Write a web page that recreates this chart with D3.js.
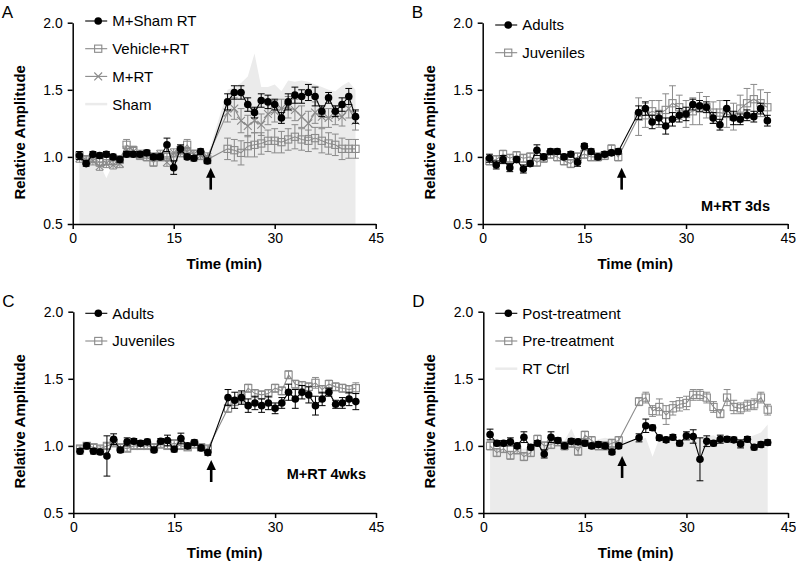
<!DOCTYPE html>
<html><head><meta charset="utf-8">
<script src="https://cdn.jsdelivr.net/npm/d3@7"></script>
<style>
body{margin:0;background:#fff;}
svg text{font-family:"Liberation Sans",Arial,Helvetica,sans-serif;}
</style></head>
<body><svg id="c" width="796" height="563"></svg>
<script>
// ---------- data ----------
const times = [1,2,3,4,5,6,7,8,9,10,11,12,13,14,15,16,17,18,19,20,23,24,25,26,27,28,29,30,31,32,33,34,35,36,37,38,39,40,41,42];
const yTicks = [0.5,1.0,1.5,2.0];
const xTicks = [0,15,30,45];

// Panel A
const A_shamRT = [1.01,0.95,1.02,1.01,1.02,1.00,0.98,1.02,1.02,1.02,1.03,1.00,1.00,1.09,0.92,1.06,1.00,0.99,1.04,0.97, 1.41,1.48,1.48,1.39,1.33,1.42,1.41,1.39,1.29,1.41,1.46,1.45,1.48,1.45,1.34,1.44,1.34,1.39,1.45,1.30];
const A_shamRT_err = [0.03,0.02,0.02,0.02,0.02,0.02,0.02,0.02,0.02,0.02,0.02,0.02,0.02,0.05,0.05,0.03,0.02,0.02,0.02,0.02, 0.06,0.05,0.05,0.05,0.04,0.05,0.05,0.04,0.04,0.06,0.06,0.05,0.06,0.07,0.04,0.04,0.04,0.05,0.06,0.05];
const A_vehicle = [1.01,0.98,0.99,0.96,0.97,0.97,0.98,1.09,1.05,1.01,1.00,0.96,1.00,1.00,1.00,1.03,1.09,1.02,1.01,0.98, 1.06,1.05,1.03,1.08,1.09,1.10,1.12,1.12,1.11,1.13,1.15,1.13,1.12,1.14,1.12,1.10,1.09,1.06,1.06,1.06];
const A_vehicle_err = [0.03,0.03,0.03,0.03,0.03,0.03,0.03,0.04,0.03,0.03,0.03,0.03,0.03,0.03,0.03,0.03,0.04,0.03,0.03,0.03, 0.08,0.08,0.09,0.08,0.09,0.08,0.08,0.09,0.08,0.08,0.09,0.08,0.08,0.08,0.09,0.08,0.08,0.08,0.07,0.07];
const A_mrt = [0.99,0.97,0.97,0.93,0.95,0.94,0.95,1.05,1.04,1.02,1.02,1.00,1.02,0.96,1.03,1.05,1.04,1.02,1.01,1.00, 1.33,1.36,1.27,1.23,1.27,1.24,1.32,1.34,1.36,1.37,1.35,1.30,1.25,1.33,1.30,1.29,1.31,1.30,1.36,1.27];
const A_mrt_err = [0.03,0.03,0.03,0.03,0.03,0.03,0.03,0.03,0.03,0.03,0.03,0.03,0.03,0.03,0.03,0.03,0.03,0.03,0.03,0.03, 0.07,0.08,0.09,0.08,0.09,0.08,0.08,0.08,0.07,0.08,0.08,0.08,0.09,0.08,0.08,0.07,0.07,0.07,0.07,0.07];
const A_sham = [1.00,0.97,0.99,0.95,0.84,0.95,0.98,1.03,1.02,1.00,1.01,1.00,1.00,1.00,1.02,1.05,1.03,1.00,1.00,1.00, 1.50,1.52,1.55,1.60,1.77,1.52,1.52,1.54,1.49,1.57,1.56,1.57,1.56,1.54,1.52,1.50,1.49,1.53,1.56,1.50];

// Panel B
const B_adults = [0.99,0.94,0.98,0.92,0.98,0.91,0.95,1.05,1.00,1.04,1.04,1.00,1.02,0.96,1.08,1.04,1.00,1.02,1.03,1.04, 1.33,1.36,1.26,1.29,1.23,1.28,1.31,1.32,1.39,1.38,1.37,1.29,1.24,1.36,1.29,1.28,1.31,1.30,1.36,1.27];
const B_adults_err = [0.03,0.03,0.03,0.03,0.02,0.03,0.02,0.04,0.02,0.02,0.02,0.02,0.02,0.03,0.02,0.02,0.02,0.02,0.02,0.02, 0.05,0.05,0.05,0.05,0.06,0.05,0.05,0.05,0.04,0.04,0.04,0.04,0.04,0.06,0.05,0.04,0.04,0.04,0.04,0.04];
const B_juv = [0.97,0.98,1.02,0.99,1.01,0.99,1.00,0.96,0.99,1.02,1.00,0.97,0.95,1.00,1.02,1.00,1.00,1.01,1.06,1.00, 1.30,1.31,1.34,1.32,1.35,1.40,1.37,1.32,1.34,1.36,1.37,1.33,1.33,1.32,1.30,1.36,1.40,1.43,1.40,1.37];
const B_juv_err = [0.03,0.03,0.03,0.03,0.03,0.03,0.03,0.03,0.03,0.03,0.03,0.03,0.03,0.03,0.03,0.03,0.03,0.03,0.03,0.03, 0.14,0.09,0.08,0.10,0.12,0.13,0.09,0.10,0.10,0.12,0.08,0.08,0.09,0.10,0.10,0.10,0.11,0.11,0.10,0.11];

// Panel C
const C_adults = [0.96,1.00,0.96,0.955,0.925,1.05,0.97,1.03,1.035,1.02,1.03,0.97,1.035,1.04,0.975,1.055,1.00,1.025,0.985,0.95, 1.36,1.34,1.36,1.30,1.32,1.30,1.32,1.28,1.32,1.40,1.35,1.40,1.38,1.30,1.35,1.40,1.31,1.32,1.35,1.33];
const C_adults_err = [0.02,0.02,0.02,0.02,0.15,0.04,0.02,0.03,0.02,0.02,0.02,0.02,0.02,0.04,0.02,0.04,0.02,0.02,0.02,0.02, 0.06,0.06,0.05,0.05,0.05,0.05,0.05,0.04,0.04,0.06,0.07,0.05,0.06,0.07,0.05,0.03,0.03,0.04,0.05,0.06];
const C_juv = [0.98,1.00,0.99,0.98,1.00,1.02,0.99,0.98,1.00,1.00,1.00,0.99,1.01,1.00,1.02,1.00,0.99,1.01,0.99,0.98, 1.28,1.33,1.36,1.43,1.39,1.38,1.39,1.43,1.41,1.53,1.46,1.45,1.44,1.47,1.42,1.46,1.44,1.43,1.42,1.43];
const C_juv_err = [0.02,0.02,0.02,0.02,0.02,0.02,0.02,0.02,0.02,0.02,0.02,0.02,0.02,0.02,0.02,0.02,0.02,0.02,0.02,0.02, 0.03,0.03,0.04,0.03,0.03,0.03,0.03,0.03,0.03,0.03,0.03,0.03,0.03,0.04,0.03,0.03,0.03,0.03,0.03,0.04];

// Panel D
const D_post = [1.085,1.02,1.02,1.03,1.00,1.065,0.99,1.02,0.94,1.065,1.04,1.00,1.035,1.03,1.02,1.00,1.01,1.00,0.955,1.00, 1.06,1.15,1.135,1.06,1.045,1.065,1.02,1.075,1.07,0.90,1.035,1.02,1.05,1.05,1.045,1.015,1.05,0.99,1.01,1.025];
const D_post_err = [0.04,0.02,0.02,0.03,0.02,0.04,0.02,0.02,0.03,0.04,0.02,0.02,0.02,0.02,0.02,0.02,0.02,0.02,0.02,0.02, 0.03,0.05,0.02,0.02,0.02,0.02,0.02,0.03,0.05,0.16,0.04,0.02,0.03,0.02,0.02,0.03,0.02,0.02,0.02,0.02];
const D_pre = [1.00,0.95,0.98,0.93,0.97,0.92,0.95,1.05,1.00,1.01,1.03,1.00,1.02,0.96,1.08,1.04,1.00,1.00,1.02,1.04, 1.33,1.36,1.26,1.29,1.23,1.28,1.31,1.32,1.38,1.38,1.36,1.29,1.24,1.36,1.29,1.28,1.30,1.31,1.36,1.27];
const D_pre_err = [0.03,0.03,0.03,0.03,0.03,0.03,0.03,0.03,0.03,0.03,0.03,0.03,0.03,0.03,0.03,0.03,0.03,0.03,0.03,0.03, 0.03,0.04,0.04,0.06,0.07,0.05,0.05,0.05,0.04,0.04,0.04,0.04,0.03,0.06,0.05,0.04,0.04,0.04,0.04,0.04];
const D_ctrl = [1.00,0.98,0.97,0.96,0.97,0.98,0.98,1.00,1.02,1.00,1.02,1.04,1.13,1.02,1.05,1.03,1.05,1.06,1.05,1.04, 1.04,1.06,0.92,1.06,1.04,1.05,1.03,1.05,1.06,1.06,1.07,1.08,1.05,1.07,1.06,1.05,1.06,1.08,1.10,1.16];

// ---------- drawing ----------
const svg = d3.select("#c");
const BLACK = "#000", GRAY = "#8a8a8a", AREA = "#ebebeb";

function drawPanel(cfg){
  const g = svg.append("g");
  const x = d3.scaleLinear().domain([0,45]).range([cfg.x0,cfg.x1]);
  const y = d3.scaleLinear().domain([0.5,2.0]).range([cfg.yb,cfg.yt]);

  if(cfg.area){
    const pts = times.map((t,i)=>[t,cfg.area[i]]);
    g.append("path").attr("d", d3.area().x(d=>x(d[0])).y0(y(0.5)).y1(d=>y(d[1]))(pts))
      .attr("fill",AREA);
  }
  cfg.series.forEach(s=>{
    const col = s.color;
    const pts = times.map((t,i)=>({t, v:s.values[i], e:s.err[i]}));
    const sg = g.append("g");
    sg.append("path").attr("d", d3.line().x(d=>x(d.t)).y(d=>y(d.v))(pts))
      .attr("fill","none").attr("stroke",col).attr("stroke-width",1.1);
    pts.forEach(d=>{
      const cx = x(d.t), y1 = y(d.v+d.e), y2 = y(d.v-d.e);
      sg.append("line").attr("x1",cx).attr("x2",cx).attr("y1",y1).attr("y2",y2).attr("stroke",col).attr("stroke-width",1);
      [y1,y2].forEach(yy=>sg.append("line").attr("x1",cx-3.4).attr("x2",cx+3.4).attr("y1",yy).attr("y2",yy).attr("stroke",col).attr("stroke-width",1));
    });
    pts.forEach(d=>marker(sg, s.marker, x(d.t), y(d.v), col));
  });

  const ya = g.append("g").attr("transform",`translate(${cfg.x0},0)`)
    .call(d3.axisLeft(y).tickValues(yTicks).tickFormat(d3.format(".1f")).tickSize(5).tickSizeOuter(0).tickPadding(5));
  const xa = g.append("g").attr("transform",`translate(0,${cfg.yb})`)
    .call(d3.axisBottom(x).tickValues(xTicks).tickFormat(d3.format("d")).tickSize(5).tickSizeOuter(0).tickPadding(4));
  [ya,xa].forEach(a=>{
    a.selectAll("path,line").attr("stroke","#000").attr("stroke-width",1.5);
    a.selectAll("text").attr("font-size",14).attr("fill","#000").style("font-family",'"Liberation Sans",Arial,sans-serif');
  });

  g.append("text").attr("transform",`translate(${cfg.x0-48},${(cfg.yt+cfg.yb)/2+9}) rotate(-90)`)
    .attr("text-anchor","middle").attr("font-size",15).attr("font-weight","bold").text("Relative Amplitude");
  g.append("text").attr("x",(cfg.x0+cfg.x1)/2).attr("y",cfg.yb+45)
    .attr("text-anchor","middle").attr("font-size",15).attr("font-weight","bold").text("Time (min)");

  g.append("text").attr("x",cfg.x0-71).attr("y",cfg.yt-4.5).attr("font-size",17).text(cfg.letter);

  const ax = x(20.5), ty = y(cfg.arrowTip);
  g.append("line").attr("x1",ax).attr("x2",ax).attr("y1",ty+8).attr("y2",ty+22).attr("stroke","#000").attr("stroke-width",2.6);
  g.append("path").attr("d",`M${ax},${ty} L${ax-4.7},${ty+10} L${ax+4.7},${ty+10} Z`).attr("fill","#000");

  if(cfg.note){
    g.append("text").attr("x",cfg.noteX).attr("y",y(cfg.noteY)).attr("text-anchor","end")
      .attr("font-size",14.5).attr("font-weight","bold").text(cfg.note);
  }

  cfg.legend.forEach((L,i)=>{
    const ly = cfg.legY + i*27.7;
    const lx = cfg.x0 + cfg.legDx;
    if(L.type==="area"){
      g.append("line").attr("x1",lx).attr("x2",lx+22).attr("y1",ly).attr("y2",ly).attr("stroke",AREA).attr("stroke-width",2.5);
    } else {
      g.append("line").attr("x1",lx).attr("x2",lx+22).attr("y1",ly).attr("y2",ly).attr("stroke",L.color).attr("stroke-width",1.1);
      marker(g, L.marker, lx+13, ly, L.color);
    }
    g.append("text").attr("x",lx+27).attr("y",ly).attr("dy","0.36em").attr("font-size",15).attr("fill","#000").text(L.name);
  });
}

function marker(g, type, cx, cy, col){
  if(type==="circle"){
    g.append("circle").attr("cx",cx).attr("cy",cy).attr("r",3.8).attr("fill",col);
  } else if(type==="square"){
    g.append("rect").attr("x",cx-3.6).attr("y",cy-3.6).attr("width",7.2).attr("height",7.2)
      .attr("fill","none").attr("stroke",col).attr("stroke-width",1.1);
  } else if(type==="x"){
    const r=3.9;
    g.append("path").attr("d",`M${cx-r},${cy-r}L${cx+r},${cy+r}M${cx-r},${cy+r}L${cx+r},${cy-r}`)
      .attr("stroke",col).attr("stroke-width",1.1).attr("fill","none");
  }
}

drawPanel({
  letter:"A", x0:72.7, x1:375.7, yt:22.7, yb:224, arrowTip:0.92,
  area:A_sham,
  series:[
    {values:A_vehicle, err:A_vehicle_err, marker:"square", color:GRAY},
    {values:A_mrt, err:A_mrt_err, marker:"x", color:GRAY},
    {values:A_shamRT, err:A_shamRT_err, marker:"circle", color:BLACK}
  ],
  legY:21, legDx:12.5,
  legend:[
    {name:"M+Sham RT", marker:"circle", color:BLACK},
    {name:"Vehicle+RT", marker:"square", color:GRAY},
    {name:"M+RT", marker:"x", color:GRAY},
    {name:"Sham", type:"area"}
  ]
});
drawPanel({
  letter:"B", x0:482.7, x1:787.7, yt:22.7, yb:224, arrowTip:0.92,
  series:[
    {values:B_juv, err:B_juv_err, marker:"square", color:GRAY},
    {values:B_adults, err:B_adults_err, marker:"circle", color:BLACK}
  ],
  note:"M+RT 3ds", noteX:770, noteY:0.6,
  legY:25, legDx:12.5,
  legend:[
    {name:"Adults", marker:"circle", color:BLACK},
    {name:"Juveniles", marker:"square", color:GRAY}
  ]
});
drawPanel({
  letter:"C", x0:73.3, x1:376, yt:311.7, yb:513, arrowTip:0.895,
  series:[
    {values:C_juv, err:C_juv_err, marker:"square", color:GRAY},
    {values:C_adults, err:C_adults_err, marker:"circle", color:BLACK}
  ],
  note:"M+RT 4wks", noteX:366, noteY:0.75,
  legY:313.3, legDx:12,
  legend:[
    {name:"Adults", marker:"circle", color:BLACK},
    {name:"Juveniles", marker:"square", color:GRAY}
  ]
});
drawPanel({
  letter:"D", x0:483.3, x1:788, yt:311.7, yb:513, arrowTip:0.925,
  area:D_ctrl,
  series:[
    {values:D_pre, err:D_pre_err, marker:"square", color:GRAY},
    {values:D_post, err:D_post_err, marker:"circle", color:BLACK}
  ],
  legY:313.3, legDx:12,
  legend:[
    {name:"Post-treatment", marker:"circle", color:BLACK},
    {name:"Pre-treatment", marker:"square", color:GRAY},
    {name:"RT Ctrl", type:"area"}
  ]
});
</script></body></html>
